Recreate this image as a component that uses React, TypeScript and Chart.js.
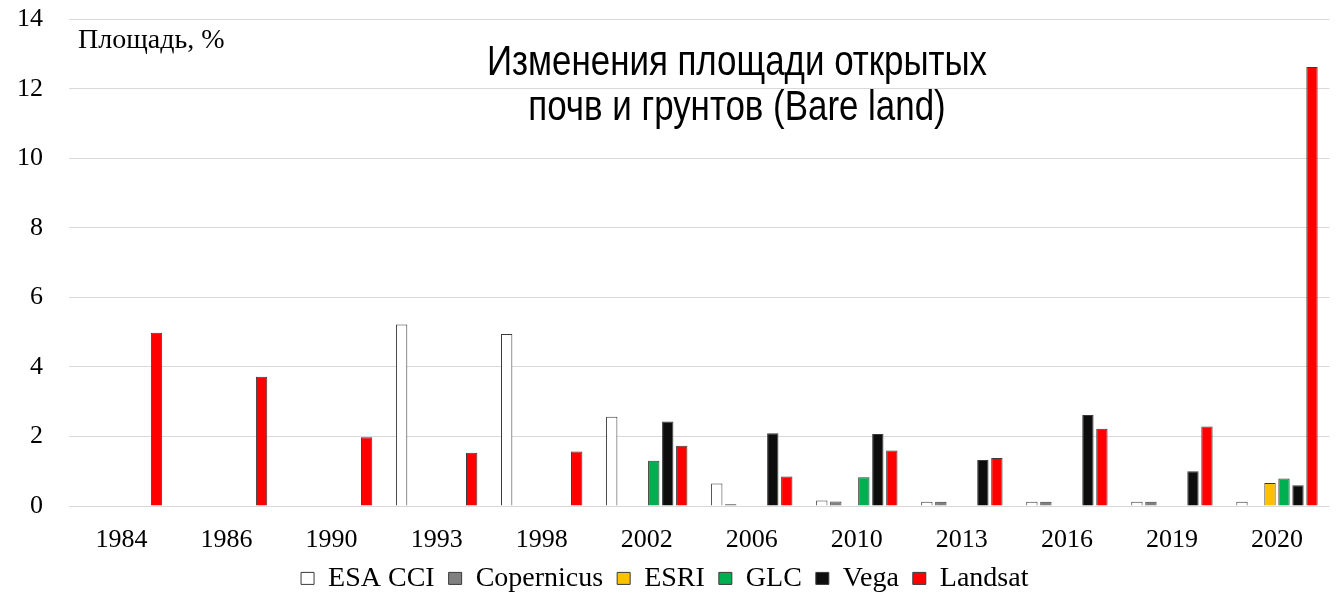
import React, { useEffect, useRef } from "react";
import { Chart, registerables } from "chart.js";

Chart.register(...registerables);

const categories = ["1984", "1986", "1990", "1993", "1998", "2002", "2006", "2010", "2013", "2016", "2019", "2020"];
const seriesNames = ["ESA CCI", "Copernicus", "ESRI", "GLC", "Vega", "Landsat"];
const seriesColors = ["#FFFFFF", "#808080", "#FFC000", "#00B050", "#0D0D0D", "#FF0000"];

const esaCci = [null, null, null, 5.22, 4.95, 2.57, 0.65, 0.16, 0.12, 0.12, 0.12, 0.12];
const copernicus = [null, null, null, null, null, null, 0.05, 0.13, 0.12, 0.12, 0.12, null];
const esri = [null, null, null, null, null, null, null, null, null, null, null, 0.66];
const glc = [null, null, null, null, null, 1.3, null, 0.83, null, null, null, 0.79];
const vega = [null, null, null, null, null, 2.43, 2.09, 2.07, 1.32, 2.62, 1.0, 0.6];
const landsat = [4.98, 3.72, 1.98, 1.53, 1.57, 1.73, 0.85, 1.6, 1.38, 2.22, 2.29, 12.63];

const yTicks = [0, 2, 4, 6, 8, 10, 12, 14];
const titleLines = ["Изменения площади открытых", "почв и грунтов (Bare land)"];
const axisLabel = "Площадь, %";

const seriesValues = [esaCci, copernicus, esri, glc, vega, landsat];

const SERIF = "'Liberation Serif', 'Times New Roman', serif";

const overlayText = {
  id: "overlayText",
  afterDraw(chart: any) {
    const ctx = chart.ctx;
    const area = chart.chartArea;
    ctx.save();
    ctx.fillStyle = "#000";
    ctx.font = "28px " + SERIF;
    ctx.textAlign = "left";
    ctx.textBaseline = "alphabetic";
    ctx.fillText(axisLabel, area.left + 9, area.top + 29);
    ctx.font = "42px 'Liberation Sans', Arial, sans-serif";
    const w = ctx.measureText(titleLines[0]).width;
    const sx = 500 / w;
    const cx = area.left + 668;
    ctx.translate(cx, 0);
    ctx.scale(sx, 1);
    ctx.textAlign = "center";
    ctx.fillText(titleLines[0], 0, area.top + 55.5);
    ctx.fillText(titleLines[1], 0, area.top + 100.5);
    ctx.restore();
  },
};

export default function App() {
  const ref = useRef<HTMLCanvasElement | null>(null);
  useEffect(() => {
    if (!ref.current) return;
    const chart = new Chart(ref.current, {
      type: "bar",
      data: {
        labels: categories,
        datasets: seriesNames.map((name, i) => ({
          label: name,
          data: seriesValues[i],
          backgroundColor: seriesColors[i],
          borderColor: "#3a3a3a",
          borderWidth: 1,
          categoryPercentage: 0.8,
          barPercentage: 0.81,
        })),
      },
      options: {
        animation: false,
        responsive: false,
        maintainAspectRatio: false,
        layout: { padding: { left: 0, right: 11.5, top: 19.3, bottom: -8.4 } },
        plugins: {
          title: { display: false },
          tooltip: { enabled: false },
          legend: {
            display: true,
            position: "bottom",
            labels: {
              color: "#000",
              font: { family: SERIF, size: 28 },
              boxWidth: 13,
              boxHeight: 12,
              padding: 14,
            },
          },
        },
        scales: {
          x: {
            grid: { display: false, drawTicks: false },
            border: { display: false },
            ticks: {
              color: "#000",
              font: { family: SERIF, size: 26, lineHeight: 0.8 },
              padding: 23.6,
              maxRotation: 0,
              autoSkip: false,
            },
            afterFit: (s: any) => {
              s.height = 44.4;
            },
          },
          y: {
            min: 0,
            max: 14,
            afterBuildTicks: (s: any) => {
              s.ticks = yTicks.map((v) => ({ value: v }));
            },
            grid: { color: "#D9D9D9", lineWidth: 1, drawTicks: false },
            border: { display: false },
            ticks: {
              color: "#000",
              font: { family: SERIF, size: 26 },
              padding: 26,
            },
            afterFit: (s: any) => {
              s.width = 69;
              s.paddingTop = 0;
              s.paddingBottom = 0;
            },
          },
        },
      },
      plugins: [overlayText],
    });
    return () => chart.destroy();
  }, []);
  return (
    <div style={{ position: "fixed", left: 0, top: 0, width: 1341, height: 594, background: "#fff" }}>
      <canvas ref={ref} width={1341} height={594} style={{ width: 1341, height: 594 }} />
    </div>
  );
}
